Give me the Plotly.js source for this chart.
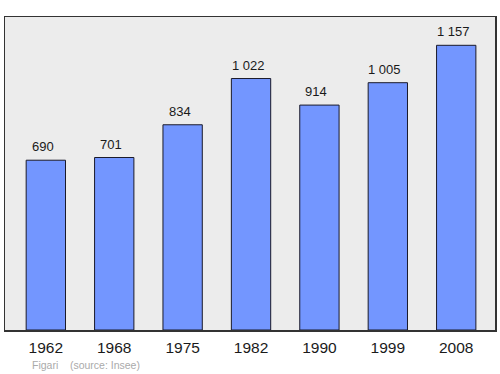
<!DOCTYPE html>
<html><head><meta charset="utf-8">
<script src="https://cdn.plot.ly/plotly-3.0.1.min.js"></script>
<style>html,body{margin:0;padding:0;background:#fff}#c{width:500px;height:374px}</style>
</head><body><div id="c"></div>
<script>
const years = ["1962","1968","1975","1982","1990","1999","2008"];
const population = [690, 701, 834, 1022, 914, 1005, 1157];
const labels = ["690","701","834","1 022","914","1 005","1 157"];
const footer = "Figari    (source: Insee)";

const trace = {
  type: "bar", x: years, y: population,
  width: 0.575,
  marker: {color: "#7396ff", line: {color: "#1a1a2a", width: 1}},
  hoverinfo: "skip"
};
const ann = years.map((y, i) => ({
  x: i, y: population[i], xref: "x", yref: "y", text: labels[i],
  showarrow: false, yanchor: "bottom", yshift: 4, xshift: -3,
  font: {family: "Liberation Sans, Arial, sans-serif", size: 13, color: "#1a1a1a"}
}));
ann.push({
  xref: "paper", yref: "paper", x: 0.051, y: -0.112, xanchor: "left", yanchor: "middle",
  text: footer, showarrow: false,
  font: {family: "Liberation Sans, Arial, sans-serif", size: 10.5, color: "#aaaaaa"}
});
const layout = {
  width: 500, height: 374,
  margin: {l: 5, r: 5, t: 17, b: 44},
  paper_bgcolor: "#ffffff", plot_bgcolor: "#ececec",
  showlegend: false,
  xaxis: {type: "category", range: [-0.597, 6.567], showgrid: false, zeroline: false,
    showline: true, mirror: true, linecolor: "#333", linewidth: 1.5, ticks: "",
    ticklabelstandoff: 3,
    tickfont: {family: "Liberation Sans, Arial, sans-serif", size: 15.5, color: "#1a1a1a"}},
  yaxis: {range: [0, 1272], showgrid: false, zeroline: false, showticklabels: false,
    showline: true, mirror: true, linecolor: "#333", linewidth: 1.5, ticks: ""},
  annotations: ann
};
Plotly.newPlot("c", [trace], layout, {staticPlot: true, displayModeBar: false});
</script></body></html>
